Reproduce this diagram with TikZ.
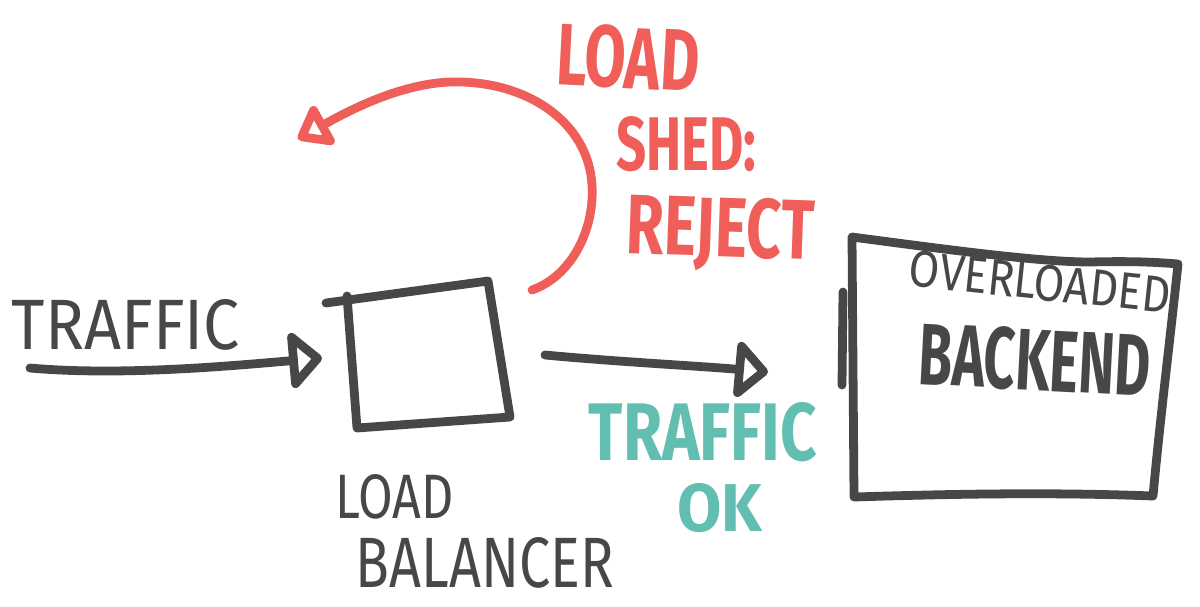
\documentclass[tikz,border=0pt]{standalone}
\usepackage{fontspec}
\setmainfont{Fira Sans}
\usetikzlibrary{arrows.meta}
\definecolor{ink}{HTML}{474747}
\definecolor{shedred}{HTML}{EF5E58}
\definecolor{okteal}{HTML}{62BEB0}
\newlength\pxu
\setlength\pxu{0.02cm}
\newcommand{\sk}[3]{\resizebox{#1\pxu}{#2\pxu}{\bfseries #3}}
\newcommand{\skl}[3]{\resizebox{#1\pxu}{#2\pxu}{#3}}
\begin{document}
\begin{tikzpicture}[x=0.02cm,y=-0.02cm,
  pen/.style={line width=5pt, line cap=round, line join=round},
  inkpen/.style={pen, draw=ink},
  redpen/.style={pen, draw=shedred},
  handtext/.style={inner sep=0pt, outer sep=0pt},
  inktext/.style={handtext, text=ink},
  redtext/.style={handtext, text=shedred},
  tealtext/.style={handtext, text=okteal},
  blacktip/.style={-{Triangle[open, round, length=0.7cm, width=1.3cm]}},
  redtip/.style={-{Triangle[open, round, length=0.7cm, width=1.0cm]}}]
\fill[white] (0,0) rectangle (1200,606);
\useasboundingbox (0,0) rectangle (1200,606);

% named points
\coordinate (trafficIn) at (30,368);
\coordinate (lbIn) at (322,358);
\coordinate (lbOut) at (545,355);
\coordinate (beIn) at (768,372);
\coordinate (shedStart) at (532,290);
\coordinate (shedEnd) at (298,139);

% load balancer box
\draw[inkpen] (326,303) -- (488,281) -- (510,417) -- (357,428) -- (347,296);

% backend box
\draw[inkpen] (852,237) .. controls (950,250) and (1040,262) .. (1090,262)
  .. controls (1130,261) and (1155,262) .. (1178,264)
  .. controls (1170,340) and (1160,420) .. (1153,496)
  .. controls (1050,492) and (950,494) .. (854,497)
  -- cycle;
\draw[inkpen] (843,292) -- (842,385);

% connectors
\draw[inkpen, blacktip] (trafficIn) .. controls (120,376) and (230,366) .. (lbIn);
\draw[inkpen, blacktip] (lbOut) .. controls (620,362) and (700,366) .. (beIn);
\draw[redpen, redtip] (shedStart) .. controls (575,275) and (600,220) .. (590,170)
  .. controls (578,115) and (520,80) .. (450,82)
  .. controls (400,84) and (350,110) .. (shedEnd);

% labels
\node[inktext] (trafficLabel) at (126,325) {\skl{228}{50}{TRAFFIC}};
\node[inktext] (lbLabelA) at (395,497) {\skl{118}{44}{LOAD}};
\node[inktext] (lbLabelB) at (485,563) {\skl{258}{50}{BALANCER}};
\node[redtext, rotate=-3] (shedA) at (628,58) {\sk{143}{62}{LOAD}};
\node[redtext] (shedB) at (686,144) {\sk{140}{54}{SHED:}};
\node[redtext, rotate=-2] (shedC) at (720,234) {\sk{188}{60}{REJECT}};
\node[tealtext] (okA) at (703,432) {\sk{228}{58}{TRAFFIC}};
\node[tealtext] (okB) at (720,508) {\sk{85}{48}{OK}};
\node[inktext, rotate=-6] (beA) at (1040,282) {\skl{262}{36}{OVERLOADED}};
\node[inktext, rotate=-3] (beB) at (1035,360) {\sk{232}{62}{BACKEND}};
\end{tikzpicture}
\end{document}
